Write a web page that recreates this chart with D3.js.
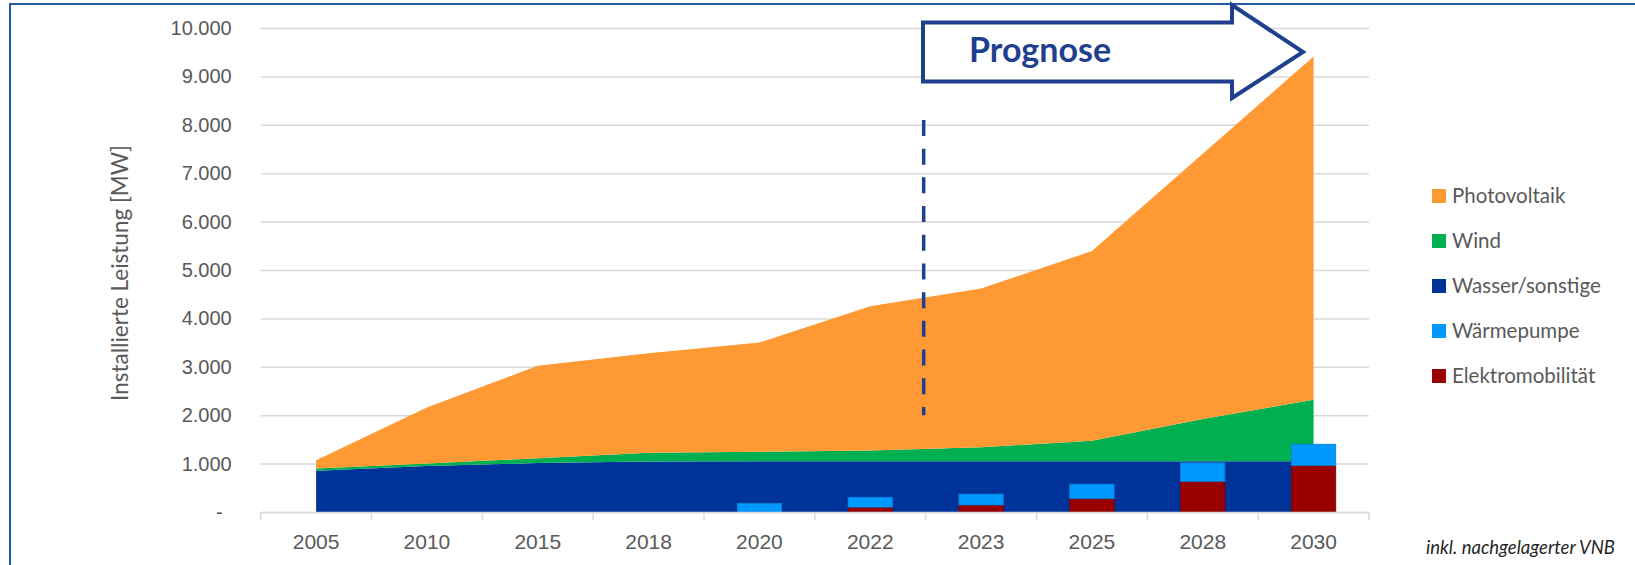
<!DOCTYPE html>
<html>
<head>
<meta charset="utf-8">
<script src="https://cdn.jsdelivr.net/npm/d3@7"></script>
<style>
  body { margin: 0; background: #fff; }
  svg { display: block; font-family: Lato, "Open Sans", sans-serif; }
  .grid line { stroke: #d9d9d9; stroke-width: 1.5; }
  .axis text { fill: #595959; }
</style>
</head>
<body>
<div id="chart"></div>
<script>
// categories and series (MW)
const years = ["2005", "2010", "2015", "2018", "2020", "2022", "2023", "2025", "2028", "2030"];
const wasser = [850, 950, 1010, 1045, 1050, 1050, 1050, 1050, 1050, 1050];
const wind = [50, 50, 100, 180, 195, 220, 290, 420, 870, 1270];
const photovoltaik = [170, 1160, 1910, 2055, 2255, 2980, 3280, 3920, 5480, 7090];
const elektromobilitaet = [0, 0, 0, 0, 0, 100, 145, 275, 630, 960];
const waermepumpe = [0, 0, 0, 0, 180, 205, 225, 300, 385, 440];
const yTicks = [0, 1000, 2000, 3000, 4000, 5000, 6000, 7000, 8000, 9000, 10000];

const W = 1635, H = 565;
const plotLeft = 260.7, plotRight = 1369, plotTop = 28, plotBottom = 512;

const colors = {
  Photovoltaik: "#ff9933",
  Wind: "#00b050",
  "Wasser/sonstige": "#003399",
  "Wärmepumpe": "#0099ff",
  "Elektromobilität": "#990000"
};

const svg = d3.select("#chart").append("svg")
  .attr("width", W)
  .attr("height", H);

// frame
svg.append("rect")
  .attr("x", 10).attr("y", 4)
  .attr("width", W + 50).attr("height", H + 50)
  .attr("fill", "none")
  .attr("stroke", "#2458a0")
  .attr("stroke-width", 2);

const x = d3.scaleBand().domain(years).range([plotLeft, plotRight]).paddingInner(0).paddingOuter(0);
const y = d3.scaleLinear().domain([0, 10000]).range([plotBottom, plotTop]);
const bw = x.bandwidth();
const cx = d => x(d) + bw / 2;

const de = d3.formatLocale({ decimal: ",", thousands: ".", grouping: [3], currency: ["", "€"] });
const fmt = de.format(",.0f");

// gridlines + y labels
const yAxis = svg.append("g")
  .attr("class", "axis grid")
  .attr("transform", `translate(${plotLeft},0)`)
  .call(d3.axisLeft(y).tickValues(yTicks).tickSize(-(plotRight - plotLeft)).tickPadding(29)
    .tickFormat(v => v === 0 ? "-" : fmt(v)));
yAxis.select(".domain").remove();
yAxis.selectAll("text")
  .style("font-size", "20px")
  .attr("dx", v => v === 0 ? -9 : 0);

// stacked areas
const table = years.map((yr, i) => ({
  year: yr,
  "Wasser/sonstige": wasser[i],
  Wind: wind[i],
  Photovoltaik: photovoltaik[i]
}));
const series = d3.stack().keys(["Wasser/sonstige", "Wind", "Photovoltaik"])(table);

const area = d3.area()
  .x(d => cx(d.data.year))
  .y0(d => y(d[0]))
  .y1(d => y(d[1]));

svg.append("g").selectAll("path")
  .data(series)
  .join("path")
  .attr("d", area)
  .attr("fill", d => colors[d.key]);

// stacked bars
const barTable = years.map((yr, i) => ({
  year: yr,
  "Elektromobilität": elektromobilitaet[i],
  "Wärmepumpe": waermepumpe[i]
}));
const barSeries = d3.stack().keys(["Elektromobilität", "Wärmepumpe"])(barTable);
const barW = bw * 0.4;
const edge = { "Elektromobilität": "#7a0000", "Wärmepumpe": "#0a7fd6" };

svg.append("g").selectAll("g")
  .data(barSeries)
  .join("g")
  .attr("fill", d => colors[d.key])
  .attr("stroke", d => edge[d.key])
  .attr("stroke-width", 0.8)
  .selectAll("rect")
  .data(d => d.filter(p => p[1] - p[0] > 0))
  .join("rect")
  .attr("x", d => cx(d.data.year) - barW / 2)
  .attr("width", barW)
  .attr("y", d => y(d[1]))
  .attr("height", d => y(d[0]) - y(d[1]));

// x axis
const xAxis = svg.append("g")
  .attr("class", "axis")
  .attr("transform", `translate(0,${plotBottom})`)
  .call(d3.axisBottom(x).tickSize(0).tickPadding(22));
xAxis.select(".domain").attr("stroke", "#d9d9d9").attr("stroke-width", 1.5);
xAxis.selectAll("text").style("font-size", "21px");

const bounds = years.map(d => x(d)).concat([plotRight]);
svg.append("g").selectAll("line")
  .data(bounds)
  .join("line")
  .attr("x1", d => d).attr("x2", d => d)
  .attr("y1", plotBottom).attr("y2", plotBottom + 8)
  .attr("stroke", "#d9d9d9")
  .attr("stroke-width", 1.5);

// forecast divider
const splitX = x("2023") - 2;
svg.append("line")
  .attr("x1", splitX).attr("x2", splitX)
  .attr("y1", y(8100)).attr("y2", y(2000))
  .attr("stroke", "#1f3f8f")
  .attr("stroke-width", 3.5)
  .attr("stroke-dasharray", "16 12.7");

// Prognose arrow
const arrow = [
  [923, 22.5], [1232, 22.5], [1232, 5], [1303, 52],
  [1232, 98], [1232, 81.5], [923, 81.5]
];
svg.append("path")
  .attr("d", d3.line()(arrow) + "Z")
  .attr("fill", "#fff")
  .attr("stroke", "#1f3f8f")
  .attr("stroke-width", 4)
  .attr("stroke-linejoin", "miter");

svg.append("text")
  .attr("x", 969)
  .attr("y", 62)
  .attr("fill", "#1f3f8f")
  .style("font-size", "34px")
  .style("font-weight", "bold")
  .text("Prognose");

// y axis title
svg.append("text")
  .attr("transform", "rotate(-90)")
  .attr("x", -273)
  .attr("y", 127.5)
  .attr("text-anchor", "middle")
  .attr("fill", "#595959")
  .style("font-size", "22.5px")
  .text("Installierte Leistung [MW]");

// legend
const legendKeys = ["Photovoltaik", "Wind", "Wasser/sonstige", "Wärmepumpe", "Elektromobilität"];
const legend = svg.append("g")
  .attr("transform", "translate(1432,196)");

legend.selectAll("g")
  .data(legendKeys)
  .join("g")
  .attr("transform", (d, i) => `translate(0, ${i * 45})`)
  .each(function (d) {
    const g = d3.select(this);
    g.append("rect")
      .attr("y", -7)
      .attr("width", 14)
      .attr("height", 14)
      .attr("fill", colors[d]);
    g.append("text")
      .attr("x", 20)
      .attr("dy", "0.36em")
      .attr("fill", "#595959")
      .style("font-size", "20.5px")
      .text(d);
  });

// footnote
svg.append("text")
  .attr("x", 1615)
  .attr("y", 554)
  .attr("text-anchor", "end")
  .attr("fill", "#262626")
  .style("font-size", "18.5px")
  .style("font-style", "italic")
  .text("inkl. nachgelagerter VNB");
</script>
</body>
</html>
